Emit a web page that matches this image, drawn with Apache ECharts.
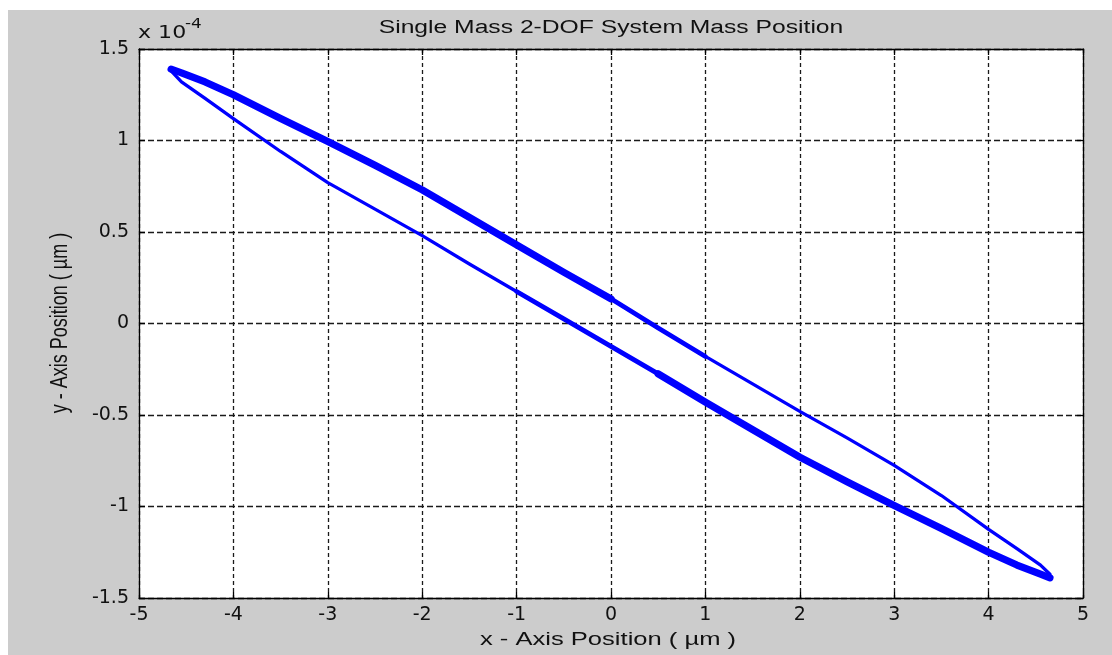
<!DOCTYPE html>
<html>
<head>
<meta charset="utf-8">
<script src="https://cdn.jsdelivr.net/npm/echarts@6/dist/echarts.min.js"></script>
<style>
  html, body { margin: 0; padding: 0; background: #ffffff; }
  #wrap { position: relative; width: 1112px; height: 655px; background: #ffffff; overflow: hidden; }
  #fig { position: absolute; left: 8px; top: 10px; width: 1104px; height: 645px; background: #cccccc; }
</style>
</head>
<body>
<div id="wrap"><div id="fig"></div></div>
<script>
// Mass trajectory, x in µm, y in units of 1e-4 µm.
// Upper branch: from the upper-left turning point to the lower-right one.
const upperX = [-4.66, -4.55, -4.30, -4.00, -3.50, -3.00, -2.50, -2.00, -1.50, -1.00, -0.50, 0.00, 0.50, 1.00, 1.50, 2.00, 2.50, 3.00, 3.50, 4.00, 4.30, 4.55, 4.65];
const upperY = [1.39, 1.37, 1.32, 1.25, 1.12, 0.995, 0.865, 0.73, 0.58, 0.43, 0.28, 0.135, -0.025, -0.18, -0.33, -0.48, -0.625, -0.775, -0.94, -1.125, -1.23, -1.32, -1.37];
// Lower branch: back from the lower-right turning point to the upper-left one.
const lowerX = [4.65, 4.55, 4.30, 4.00, 3.50, 3.00, 2.50, 2.00, 1.50, 1.00, 0.50, 0.00, -0.50, -1.00, -1.50, -2.00, -2.50, -3.00, -3.50, -4.00, -4.30, -4.55, -4.66];
const lowerY = [-1.39, -1.37, -1.32, -1.25, -1.12, -0.995, -0.865, -0.73, -0.58, -0.43, -0.275, -0.125, 0.025, 0.175, 0.325, 0.48, 0.625, 0.77, 0.94, 1.12, 1.23, 1.32, 1.38];

const xTicks = { min: -5, max: 5, interval: 1 };
const yTicks = { min: -1.5, max: 1.5, interval: 0.5 };

const TITLE = 'Single Mass 2-DOF System Mass Position';
const X_NAME = 'x - Axis Position ( \u00b5m )';
const Y_NAME = 'y - Axis Position ( \u00b5m )';

const pairs = (xs, ys) => xs.map((x, i) => [x, ys[i]]);
const upper = pairs(upperX, upperY);
const lower = pairs(lowerX, lowerY);
const loop = upper.concat(lower);

// Parts of the orbit that were traced repeatedly appear heavier.
const upperHeavy = upper.filter(p => p[0] <= 0.0);
const upperMid = upper.filter(p => p[0] >= 0.0 && p[0] <= 1.0);
const lowerHeavy = lower.filter(p => p[0] >= 0.5);
const lowerMid = lower.filter(p => p[0] <= 0.5 && p[0] >= -1.0);

const FONT = 'Liberation Sans, Arial, sans-serif';
const TICK_FONT = 'DejaVu Sans, Liberation Sans, sans-serif';
const INK = '#111111';
const BLUE = '#0000ff';
const STRETCH = 1.37;   // glyphs of the figure text are wide

function lineSeries(data, width) {
  return {
    type: 'line', data: data, showSymbol: false, symbol: 'none', smooth: false,
    lineStyle: { color: BLUE, width: width, cap: 'round', join: 'round' },
    silent: true, animation: false, z: 5
  };
}

function xAxisDef(pos, labels) {
  return {
    type: 'value', position: pos, min: xTicks.min, max: xTicks.max, interval: xTicks.interval,
    axisLine: { show: true, onZero: false, lineStyle: { color: '#000', width: 1.3 } },
    axisTick: { show: true, inside: true, length: 6, lineStyle: { color: '#000', width: 1.3 } },
    axisLabel: { show: labels, color: INK, fontFamily: TICK_FONT, fontSize: 19, margin: 8 },
    splitLine: labels ? { show: true, lineStyle: { color: '#1a1a1a', type: [4, 3], width: 1.3 } } : { show: false }
  };
}

function yAxisDef(pos, labels) {
  return {
    type: 'value', position: pos, min: yTicks.min, max: yTicks.max, interval: yTicks.interval,
    axisLine: { show: true, onZero: false, lineStyle: { color: '#000', width: 1.3 } },
    axisTick: { show: true, inside: true, length: 6, lineStyle: { color: '#000', width: 1.3 } },
    axisLabel: { show: labels, color: INK, fontFamily: TICK_FONT, fontSize: 19, margin: 10 },
    splitLine: labels ? { show: true, lineStyle: { color: '#1a1a1a', type: [6, 3], width: 1.3 } } : { show: false }
  };
}

function label(text, x, y, opts) {
  return Object.assign({
    type: 'text', x: x, y: y, silent: true, z: 10,
    style: {
      text: text, x: 0, y: 0, fill: INK,
      font: opts.size + 'px ' + (opts.family || FONT),
      align: opts.align || 'center', verticalAlign: opts.valign || 'middle'
    }
  }, opts.transform || {});
}

const chart = echarts.init(document.getElementById('fig'), null, { renderer: 'canvas' });
chart.setOption({
  animation: false,
  backgroundColor: 'transparent',
  graphic: [
    label(TITLE, 603, 18, { size: 18, transform: { scaleX: STRETCH } }),
    label(X_NAME, 600, 630, { size: 18, transform: { scaleX: 1.42 } }),
    label(Y_NAME, 52, 313, { size: 18, transform: { rotation: Math.PI / 2, scaleY: STRETCH } }),
    label('x 10', 130, 24, { size: 17, family: TICK_FONT, align: 'left', valign: 'middle', transform: { scaleX: 1.3 } }),
    label('-4', 177, 14, { size: 14, family: TICK_FONT, align: 'left', valign: 'middle', transform: { scaleX: 1.2 } })
  ],
  grid: { left: 131, top: 39, right: 29, bottom: 57, show: true, backgroundColor: '#ffffff', borderWidth: 0 },
  xAxis: [xAxisDef('bottom', true), xAxisDef('top', false)],
  yAxis: [yAxisDef('left', true), yAxisDef('right', false)],
  series: [
    lineSeries(loop, 3.3),
    lineSeries(upperMid, 4.8),
    lineSeries(lowerMid, 4.8),
    lineSeries(upperHeavy, 7.2),
    lineSeries(lowerHeavy, 7.2)
  ]
});
</script>
</body>
</html>
